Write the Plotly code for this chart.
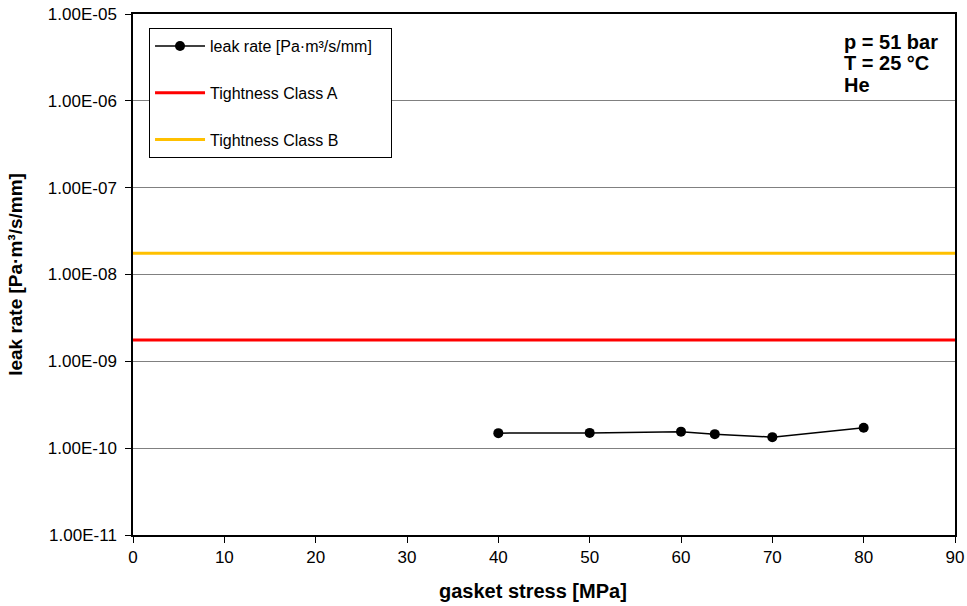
import plotly.graph_objects as go

gasket_stress = [40, 50, 60, 63.7, 70, 80]
leak_rate = [1.49e-10, 1.50e-10, 1.55e-10, 1.45e-10, 1.34e-10, 1.72e-10]
class_a_value = 1.76e-9
class_b_value = 1.76e-8
x_range = [0, 90]
xtick_vals = [0, 10, 20, 30, 40, 50, 60, 70, 80, 90]
ytick_vals = [1e-11, 1e-10, 1e-9, 1e-8, 1e-7, 1e-6, 1e-5]
ytick_text = ["1.00E-11", "1.00E-10", "1.00E-09", "1.00E-08", "1.00E-07", "1.00E-06", "1.00E-05"]
conditions = ["p = 51 bar", "T = 25 °C", "He"]
series_names = ["leak rate [Pa·m³/s/mm]", "Tightness Class A", "Tightness Class B"]

FONT = "Liberation Sans, Arial, sans-serif"
PAD = "\u00a0" * 3
NB = "\u00a0"

fig = go.Figure()
fig.add_trace(go.Scatter(
    x=gasket_stress, y=leak_rate, mode="lines+markers",
    name=series_names[0] + PAD, legendgroup="a",
    line=dict(color="black", width=1.5),
    marker=dict(color="black", size=10, symbol="circle"),
))
fig.add_trace(go.Scatter(
    x=x_range, y=[class_a_value, class_a_value], mode="lines",
    name=series_names[1], legendgroup="b",
    line=dict(color="#ff0000", width=3),
))
fig.add_trace(go.Scatter(
    x=x_range, y=[class_b_value, class_b_value], mode="lines",
    name=series_names[2], legendgroup="c",
    line=dict(color="#ffc000", width=3),
))

for i, txt in enumerate(conditions):
    fig.add_annotation(
        x=0.862, y=0.972 - i * 0.0413, xref="paper", yref="paper",
        xanchor="left", yanchor="top", align="left", showarrow=False,
        text="<b>" + txt + "</b>",
        font=dict(family=FONT, size=20, color="black"),
    )

fig.update_layout(
    width=967, height=606,
    margin=dict(l=133, r=12, t=14, b=71, autoexpand=False),
    plot_bgcolor="white", paper_bgcolor="white",
    font=dict(family=FONT, size=16, color="black"),
    showlegend=True,
    legend=dict(
        x=0.0195, y=0.973, xanchor="left", yanchor="top",
        bordercolor="black", borderwidth=1, bgcolor="white",
        tracegroupgap=23, font=dict(size=16), itemwidth=50,
    ),
    xaxis=dict(
        range=x_range, tickvals=xtick_vals,
        ticks="outside", ticklen=6, tickcolor="black",
        showgrid=False, zeroline=False, automargin=False,
        showline=True, linecolor="black", linewidth=1.5, mirror=True,
        title=dict(text="<b>gasket stress [MPa]" + NB * 4 + "</b>", font=dict(size=20), standoff=18),
        tickfont=dict(size=17),
    ),
    yaxis=dict(
        type="log", range=[-11, -5],
        tickvals=ytick_vals, ticktext=ytick_text,
        ticks="outside", ticklen=6, tickcolor="black", ticklabelstandoff=5,
        showgrid=True, gridcolor="#808080", gridwidth=1,
        zeroline=False, automargin=False,
        showline=True, linecolor="black", linewidth=1.5, mirror=True,
        title=dict(text="<b>leak rate [Pa·m³/s/mm]</b>", font=dict(size=19), standoff=20),
        tickfont=dict(size=17),
    ),
)

fig.write_html("out.html", config={"displayModeBar": False},
               post_script="document.body.style.margin='0';")
